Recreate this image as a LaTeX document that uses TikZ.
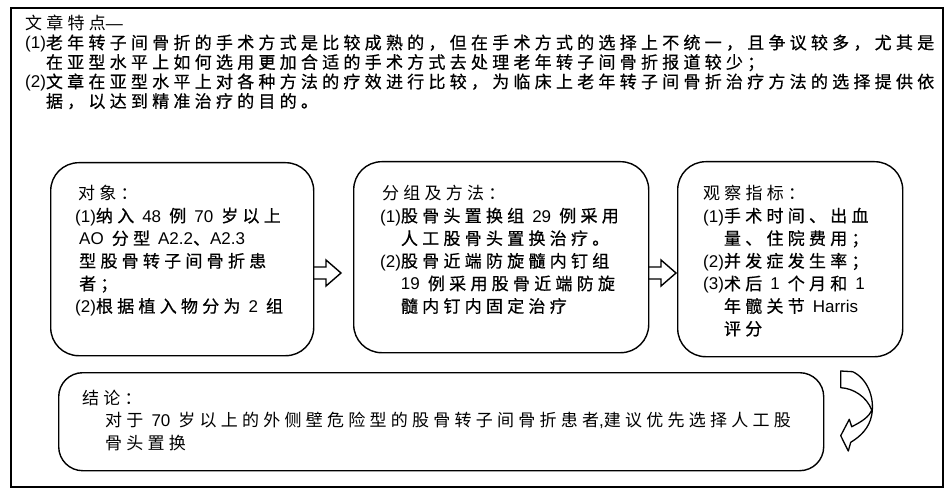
\documentclass[tikz,border=0pt]{standalone}
\usepackage{fontspec}
\setmainfont{Noto Sans CJK SC}[LetterSpace=25]
\newfontfamily\cjkbold{Noto Sans CJK SC}[LetterSpace=25,FakeBold=0.6]
\newfontfamily\enfont{Liberation Sans}
\newcommand\en[1]{{\enfont #1}}
\newcommand\ind{\phantom{\en{(1)}}}
\begin{document}
\begin{tikzpicture}[x=1pt,y=-1pt,
  frame/.style={draw=black, line width=1.2pt},
  rbox/.style={draw=black, line width=1.4pt, rounded corners=28pt, inner sep=0pt, anchor=north west},
  cbox/.style={draw=black, line width=1.4pt, rounded corners=24pt, inner sep=0pt, anchor=north west},
  txt/.style={anchor=base west, align=left, inner sep=0pt, font=\fontsize{17}{22.6}\selectfont\cjkbold},
  ttl/.style={anchor=base west, align=left, inner sep=0pt, font=\fontsize{17}{19.5}\selectfont\cjkbold},
  blockarrow/.style={draw=black, line width=1.4pt, line join=miter},
]
\useasboundingbox (0,0) rectangle (952,497);
\fill[white] (0,0) rectangle (952,497);
\draw[frame] (11,8) rectangle (943,487);

% anchor base = baseline of the last line
\node[ttl] (title) at (25,107.5) {{\rmfamily 文章特点}\en{—}\\
\en{(1)}老年转子间骨折的手术方式是比较成熟的，但在手术方式的选择上不统一，且争议较多，尤其是\\
\ind 在亚型水平上如何选用更加合适的手术方式去处理老年转子间骨折报道较少；\\
\en{(2)}文章在亚型水平上对各种方法的疗效进行比较，为临床上老年转子间骨折治疗方法的选择提供依\\
\ind 据，以达到精准治疗的目的。};

% boxes
\node[rbox, minimum width=263pt, minimum height=193pt] (b1) at (50,162) {};
\node[rbox, minimum width=295pt, minimum height=191pt] (b2) at (353,161) {};
\node[rbox, minimum width=225pt, minimum height=195pt] (b3) at (677,161) {};
\node[cbox, minimum width=765pt, minimum height=98pt] (b4) at (58,372) {};

\node[txt] (t1) at (75,312.5) {\hspace*{3pt}{\rmfamily 对象：}\\
\en{(1)}纳入 \en{48} 例 \en{70} 岁以上\\
\hspace*{4pt}\en{AO} 分型 \en{A2.2}、\en{A2.3}\\
\hspace*{4pt}型股骨转子间骨折患\\
\hspace*{4pt}者；\\
\en{(2)}根据植入物分为 \en{2} 组};

\node[txt] (t2) at (380,312.5) {\hspace*{2pt}{\rmfamily 分组及方法：}\\
\en{(1)}股骨头置换组 \en{29} 例采用\\
\ind 人工股骨头置换治疗。\\
\en{(2)}股骨近端防旋髓内钉组\\
\ind\en{19} 例采用股骨近端防旋\\
\ind 髓内钉内固定治疗};

\node[txt] (t3) at (703,335.1) {{\rmfamily 观察指标：}\\
\en{(1)}手术时间、出血\\
\ind 量、住院费用；\\
\en{(2)}并发症发生率；\\
\en{(3)}术后 \en{1} 个月和 \en{1}\\
\ind 年髋关节 \en{Harris}\\
\ind 评分};

\node[txt, font=\fontsize{17}{22.6}\selectfont\rmfamily] (t4) at (82,449.5) {结论：\\
\hspace*{23pt}对于 \en{70} 岁以上的外侧壁危险型的股骨转子间骨折患者\en{,}建议优先选择人工股\\
\hspace*{23pt}骨头置换};

% block arrows between boxes
\draw[blockarrow] (313,267) -- (326,267) -- (326,260) -- (341,273) -- (326,286) -- (326,279) -- (313,279);
\draw[blockarrow] (648,267) -- (661,267) -- (661,260) -- (676,273) -- (661,286) -- (661,279) -- (648,279);

% curved arrow
\draw[blockarrow, line width=1.3pt, line join=round] (840.7,371) -- (852.7,371.7)
  .. controls (866.7,378.3) and (875,396.7) .. (871.7,415)
  .. controls (869.3,428.3) and (860,436.7) .. (850.7,442.3)
  -- (848.3,451) -- (840.7,435.7) -- (849.3,419.3) -- (851.7,426.7)
  .. controls (861.7,421.7) and (869.3,416.7) .. (871.7,410)
  .. controls (866.7,396.7) and (853.3,388.3) .. (840.7,387.7) -- cycle;
\end{tikzpicture}
\end{document}
